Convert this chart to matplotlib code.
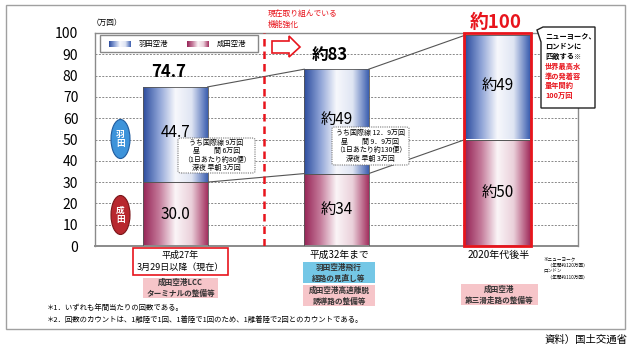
import numpy as np
import matplotlib
matplotlib.use("Agg")
import matplotlib.pyplot as plt
from matplotlib.colors import LinearSegmentedColormap
from matplotlib.patches import Rectangle, Ellipse, Polygon, FancyBboxPatch

plt.rcParams['font.family'] = ['Noto Sans CJK JP', 'DejaVu Sans']

# データ（万回）
periods = ['平成27年\n3月29日以降（現在）', '平成32年まで', '2020年代後半']
narita = [30.0, 34, 50]
haneda = [44.7, 49, 49]
narita_labels = ['30.0', '約34', '約50']
haneda_labels = ['44.7', '約49', '約49']
total_labels = ['74.7', '約83', '約100']
yticks = list(range(0, 101, 10))
measures_pink = ['成田空港LCC\nターミナルの整備等', '成田空港高速離脱\n誘導路の整備等', '成田空港\n第三滑走路の整備等']
intl_notes = ['うち国際線 9万回\n昼　　間 6万回\n（1日あたり約80便）\n深夜 早朝 3万回',
              'うち国際線 12．9万回\n昼　　間 9．9万回\n（1日あたり約130便）\n深夜 早朝 3万回']
callout_black = ['ニューヨーク、', 'ロンドンに', '匹敵する※']
callout_red = ['世界最高水', '準の発着容', '量年間約', '100万回']

W, H = 636, 351
RED = '#e8141c'
cm_haneda = LinearSegmentedColormap.from_list('h', ['#2c4c9e', '#8ea3d6', '#f7f8fc', '#dfe5f3', '#3c5fb0'])
cm_narita = LinearSegmentedColormap.from_list('n', ['#962456', '#c47a9a', '#fbf5f7', '#ead0da', '#a3305f'])
grad = np.linspace(0, 1, 256).reshape(1, -1)


def P(x, y):
    return (x / W, 1 - y / H)


def ftext(x, y, s, **kw):
    fig.text(x / W, 1 - y / H, s, **kw)


def fbox(x0, y0, x1, y1, **kw):
    r = Rectangle((x0 / W, 1 - y1 / H), (x1 - x0) / W, (y1 - y0) / H,
                  transform=fig.transFigure, **kw)
    fig.add_artist(r)
    return r


fig = plt.figure(figsize=(W / 100, H / 100), dpi=100)

# 外枠
fbox(6, 5, 625, 329, facecolor='white', edgecolor='#a0a0a0', lw=1.0, zorder=0)

ax = fig.add_axes([95 / W, 1 - 246 / H, 483 / W, 213 / H])
ax.set_facecolor('none')
x = np.arange(len(periods))
w = 0.40

b1 = ax.bar(x, narita, w, facecolor='none', edgecolor='#555555', lw=0.6, zorder=3)
b2 = ax.bar(x, haneda, w, bottom=narita, facecolor='none', edgecolor='#555555', lw=0.6, zorder=3)
for bars, cm in [(b1, cm_narita), (b2, cm_haneda)]:
    for p in bars:
        x0, y0 = p.get_x(), p.get_y()
        im = ax.imshow(grad, extent=(x0, x0 + p.get_width(), y0, y0 + p.get_height()),
                       aspect='auto', cmap=cm, zorder=2)
        im.set_clip_path(p)

# 2020年代後半の赤枠
p3 = b1[2]
ax.add_patch(Rectangle((p3.get_x() - 0.01, 0), p3.get_width() + 0.02, narita[2] + haneda[2] + 1,
                       fill=False, edgecolor=RED, lw=2, zorder=4, clip_on=False))

# 接続線
for i in range(len(periods) - 1):
    tot0, tot1 = narita[i] + haneda[i], narita[i + 1] + haneda[i + 1]
    ax.plot([i + w / 2, i + 1 - w / 2], [tot0, tot1], color='#555555', lw=0.8, zorder=1)
    ax.plot([i + w / 2, i + 1 - w / 2], [narita[i], narita[i + 1]], color='#555555', lw=0.8, zorder=1)

# ラベル
for i in range(len(periods)):
    ax.text(i, narita[i] / 2, narita_labels[i], ha='center', va='center', fontsize=11, zorder=5)
    ax.text(i, narita[i] + haneda[i] / 2 + 1, haneda_labels[i], ha='center', va='center', fontsize=11, zorder=5)
tops = [narita[i] + haneda[i] for i in range(len(periods))]
ax.text(0 - 0.04, tops[0] + 7, total_labels[0], ha='center', va='center', fontsize=12, fontweight='bold')
ax.text(1 - 0.04, tops[1] + 6.5, total_labels[1], ha='center', va='center', fontsize=12, fontweight='bold')
ax.text(2 - 0.01, tops[2] + 6, total_labels[2], ha='center', va='center', fontsize=13.5,
        fontweight='bold', color=RED, clip_on=False)

# 赤破線
ax.axvline(0.548, color=RED, ls=(0, (3, 2)), lw=1.8, zorder=4)

ax.set_xlim(-0.5, 2.5)
ax.set_ylim(0, 100)
ax.set_yticks(yticks)
ax.set_yticklabels([str(t) for t in yticks], fontsize=10)
ax.tick_params(axis='y', length=0, pad=12)
ax.set_xticks([])
ax.yaxis.grid(True, color='#888888', ls=(0, (2, 1.5)), lw=0.7)
ax.set_axisbelow(True)
for s in ax.spines.values():
    s.set_color('#8a8a8a')
    s.set_linewidth(1.0)
ax.spines['bottom'].set_linewidth(1.4)

ftext(92, 23, '（万回）', fontsize=5.5, va='center')

# 凡例
fbox(100, 35, 258, 52, facecolor='white', edgecolor='#888888', lw=1.0, zorder=5)
for x0, cm, name in [(109, cm_haneda, '羽田空港'), (187, cm_narita, '成田空港')]:
    lax = fig.add_axes([x0 / W, 1 - 47 / H, 22 / W, 6 / H], zorder=6)
    lax.imshow(grad, aspect='auto', cmap=cm)
    lax.axis('off')
    ftext(x0 + 30, 43.5, name, fontsize=5.3, va='center', zorder=7)

# 赤い注記と矢印
ftext(268, 20, '現在取り組んでいる\n機能強化', fontsize=5.6, color=RED, va='center', linespacing=1.4)
arrow = Polygon([P(272, 41), P(289, 41), P(289, 36), P(300, 47), P(289, 57), P(289, 53), P(272, 53)],
                closed=True, transform=fig.transFigure, facecolor='white', edgecolor=RED, lw=1.2)
fig.add_artist(arrow)

# 羽田 / 成田 楕円
for cy, fc, ec, s in [(139, '#3d93da', '#1f5b9e', '羽\n田'), (215, '#b8282f', '#7a1518', '成\n田')]:
    e = Ellipse(P(120.5, cy), 19 / W, 39 / H, transform=fig.transFigure, facecolor=fc, edgecolor=ec, lw=0.8)
    fig.add_artist(e)
    ftext(120.5, cy, s, fontsize=6.2, color='white', fontweight='bold', ha='center', va='center',
          linespacing=1.1)

# 国際線の注記ボックス
for (x0, y0, x1, y1), s in zip([(178, 138, 255, 173), (332, 127, 409, 165)], intl_notes):
    b = FancyBboxPatch(P(x0, y1), (x1 - x0) / W, (y1 - y0) / H, boxstyle='round,pad=0,rounding_size=0.005',
                       transform=fig.transFigure, facecolor='white', edgecolor='#777777', lw=0.8,
                       ls=(0, (1, 1)))
    fig.add_artist(b)
    ftext((x0 + x1) / 2, (y0 + y1) / 2, s, fontsize=5, ha='center', va='center', linespacing=1.1)

# 右の吹き出し
call = Polygon([P(543, 27), P(595, 27), P(595, 108), P(541, 108), P(541, 42), P(537, 30)],
               closed=True, transform=fig.transFigure, facecolor='white', edgecolor='#222222', lw=1.0)
fig.add_artist(call)
for k, s in enumerate(callout_black):
    ftext(545, 37 + 9.5 * k, s, fontsize=5.2, fontweight='bold', va='center')
for k, s in enumerate(callout_red):
    ftext(545, 66 + 9.8 * k, s, fontsize=5.2, fontweight='bold', color=RED, va='center')

# 下のラベル
fbox(133, 248, 228, 275, facecolor='white', edgecolor=RED, lw=1.2)
ftext(180.5, 261.5, periods[0], fontsize=6.5, ha='center', va='center', linespacing=1.35)
ftext(339, 255, periods[1], fontsize=7, ha='center', va='center')
ftext(499, 255, periods[2], fontsize=7.2, ha='center', va='center')

fbox(303, 262, 375, 283, facecolor='#74c7e6', edgecolor='none')
ftext(339, 272.5, '羽田空港飛行\n経路の見直し等', fontsize=5.5, fontweight='bold', color='#333333',
      ha='center', va='center', linespacing=1.3)
for (x0, y0, x1, y1), s in zip([(143, 278, 218, 298), (303, 285, 375, 306), (461, 284, 538, 305)],
                               measures_pink):
    fbox(x0, y0, x1, y1, facecolor='#f6c5c9', edgecolor='none')
    ftext((x0 + x1) / 2, (y0 + y1) / 2, s, fontsize=5.5, fontweight='bold', color='#333333',
          ha='center', va='center', linespacing=1.3)

ftext(543, 268, '※ニューヨーク\n　（年間約120万回）\nロンドン\n　（年間約110万回）', fontsize=3.3,
      va='center', linespacing=1.25)

# 脚注
ftext(47, 308, '＊1．いずれも年間当たりの回数である。', fontsize=5.3, va='center')
ftext(47, 320, '＊2．回数のカウントは、1離陸で1回、1着陸で1回のため、1離着陸で2回とのカウントである。',
      fontsize=5.3, va='center')
ftext(628, 340, '資料）国土交通省', fontsize=7.5, ha='right', va='center')

fig.savefig('out.png', dpi=100)
